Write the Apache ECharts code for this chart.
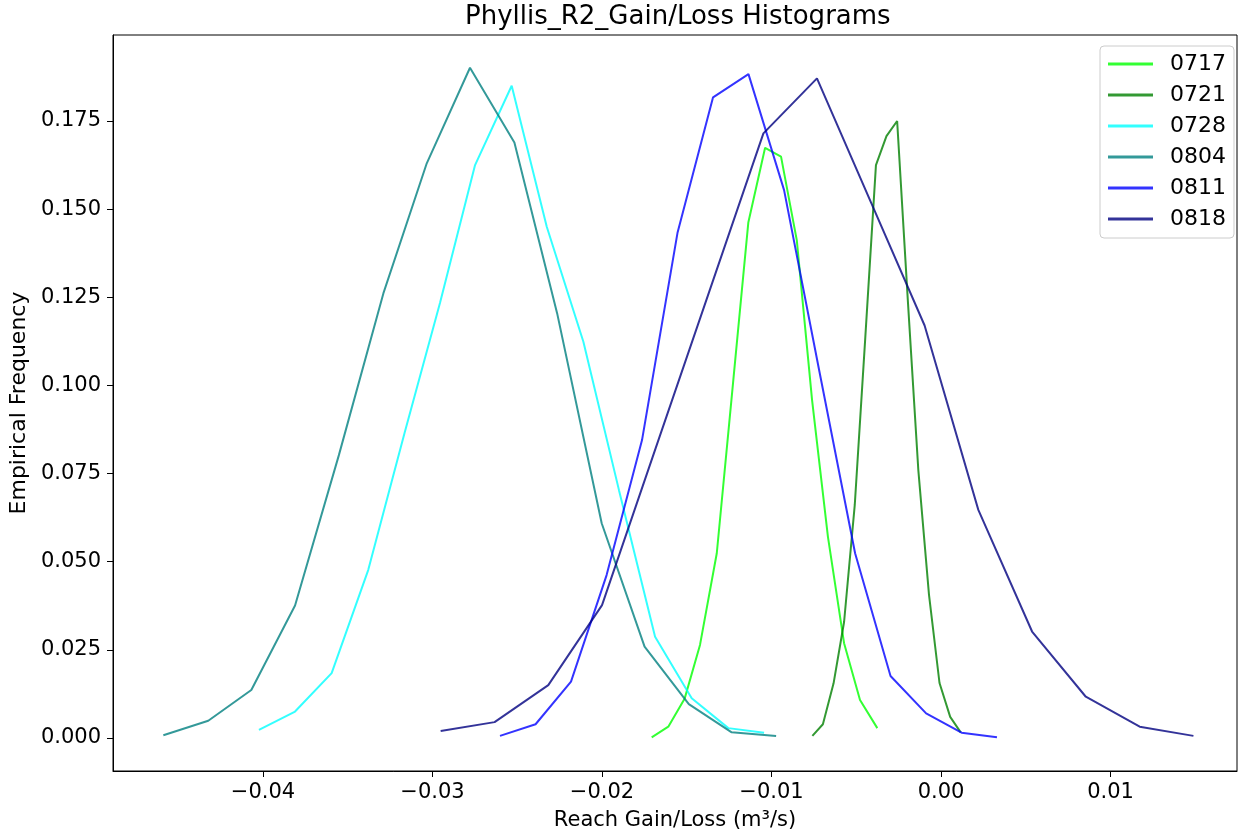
<!DOCTYPE html>
<html>
<head>
<meta charset="utf-8">
<title>Phyllis_R2_Gain/Loss Histograms</title>
<style>
  html, body { margin: 0; padding: 0; background: #fff; }
  #main { width: 1243px; height: 836px; }
</style>
</head>
<body>
<div id="main"></div>
<script src="https://cdn.jsdelivr.net/npm/echarts@6/dist/echarts.min.js"></script>
<script type="text/javascript">
// data
var names = ['0717', '0721', '0728', '0804', '0811', '0818'];

var x0717 = [-0.01707, -0.01609, -0.01513, -0.01422, -0.01323, -0.01227, -0.01137, -0.01038, -0.00944, -0.00851, -0.00761, -0.00667, -0.00572, -0.00478, -0.00376];
var y0717 = [0.0002, 0.0032, 0.0111, 0.0264, 0.0524, 0.1007, 0.1462, 0.1674, 0.1649, 0.1412, 0.0959, 0.0570, 0.0269, 0.0108, 0.0028];

var x0721 = [-0.00759, -0.00697, -0.00634, -0.00572, -0.00509, -0.00447, -0.00384, -0.00322, -0.00259, -0.00196, -0.00134, -0.00071, -0.00009, 0.00054, 0.00116];
var y0721 = [0.0006, 0.0039, 0.0155, 0.0329, 0.0661, 0.1135, 0.1625, 0.1707, 0.1750, 0.1242, 0.0760, 0.0406, 0.0156, 0.0060, 0.0016];

var x0728 = [-0.04024, -0.03811, -0.03595, -0.03379, -0.03165, -0.02956, -0.02749, -0.02533, -0.02326, -0.02110, -0.01900, -0.01687, -0.01471, -0.01255, -0.01044];
var y0728 = [0.0023, 0.0075, 0.0184, 0.0477, 0.0865, 0.1234, 0.1625, 0.1850, 0.1450, 0.1124, 0.0703, 0.0287, 0.0113, 0.0028, 0.0015];

var x0804 = [-0.04588, -0.04323, -0.04069, -0.03811, -0.03552, -0.03290, -0.03034, -0.02779, -0.02517, -0.02265, -0.02002, -0.01749, -0.01488, -0.01235, -0.00973];
var y0804 = [0.0008, 0.0049, 0.0136, 0.0376, 0.0803, 0.1261, 0.1630, 0.1901, 0.1689, 0.1205, 0.0609, 0.0259, 0.0096, 0.0016, 0.0006];

var x0811 = [-0.02602, -0.02392, -0.02183, -0.01973, -0.01764, -0.01555, -0.01345, -0.01136, -0.00926, -0.00717, -0.00507, -0.00298, -0.00088, 0.00121, 0.00330];
var y0811 = [0.0006, 0.0039, 0.0160, 0.0462, 0.0845, 0.1432, 0.1817, 0.1883, 0.1554, 0.1038, 0.0524, 0.0176, 0.0070, 0.0015, 0.0002];

var x0818 = [-0.02952, -0.02634, -0.02317, -0.02000, -0.01683, -0.01366, -0.01048, -0.00732, -0.00414, -0.00097, 0.00220, 0.00537, 0.00854, 0.01172, 0.01489];
var y0818 = [0.0020, 0.0045, 0.0150, 0.0377, 0.0823, 0.1268, 0.1715, 0.1871, 0.1520, 0.1170, 0.0647, 0.0302, 0.0117, 0.0032, 0.0006];

var xTicks = [-0.04, -0.03, -0.02, -0.01, 0.00, 0.01];
var yTicks = [0.000, 0.025, 0.050, 0.075, 0.100, 0.125, 0.150, 0.175];

var colors = ['rgba(0,255,0,0.8)', 'rgba(0,128,0,0.8)', 'rgba(0,255,255,0.8)',
              'rgba(0,128,128,0.8)', 'rgba(0,0,255,0.8)', 'rgba(0,0,128,0.8)'];

var xs = [x0717, x0721, x0728, x0804, x0811, x0818];
var ys = [y0717, y0721, y0728, y0804, y0811, y0818];

function pairs(xa, ya) {
    var out = [];
    for (var i = 0; i < xa.length; i++) out.push([xa[i], ya[i]]);
    return out;
}

var series = names.map(function (n, i) {
    return {
        name: n,
        type: 'line',
        symbol: 'none',
        animation: false,
        data: pairs(xs[i], ys[i]),
        lineStyle: { width: 2, color: colors[i] },
        itemStyle: { color: colors[i] }
    };
});

var font = 'DejaVu Sans';
var myChart = echarts.init(document.getElementById('main'));
var option = {
    backgroundColor: '#fff',
    animation: false,
    title: {
        text: 'Phyllis_R2_Gain/Loss Histograms',
        left: 465,
        top: 4,
        padding: 0,
        textStyle: { fontFamily: font, fontSize: 26, fontWeight: 'normal', color: '#000' }
    },
    legend: {
        data: names,
        orient: 'vertical',
        left: 1100,
        top: 46,
        padding: [7, 8, 8, 8],
        icon: 'rect',
        itemWidth: 45,
        itemHeight: 3,
        itemGap: 9,
        backgroundColor: 'rgba(255,255,255,0.8)',
        borderColor: '#cccccc',
        borderWidth: 1,
        borderRadius: 4,
        textStyle: { fontFamily: font, fontSize: 22, lineHeight: 22, color: '#000', padding: [0, 0, 0, 12] }
    },
    grid: {
        left: 113, top: 35, right: 6, bottom: 65,
        show: true, borderColor: '#000', borderWidth: 1,
        containLabel: false, outerBoundsMode: 'none'
    },
    xAxis: {
        type: 'value',
        min: -0.04885,
        max: 0.01746,
        name: 'Reach Gain/Loss (m³/s)',
        nameLocation: 'middle',
        nameGap: 39,
        nameTextStyle: { fontFamily: font, fontSize: 21, color: '#000' },
        splitLine: { show: false },
        axisLine: { show: true, onZero: false, lineStyle: { color: '#000', width: 1 } },
        axisTick: { show: true, length: 6, customValues: xTicks, lineStyle: { color: '#000' } },
        axisLabel: {
            customValues: xTicks,
            margin: 11,
            fontFamily: font, fontSize: 21, color: '#000',
            formatter: function (v) {
                return (v < -1e-9 ? '\u2212' : '') + Math.abs(v).toFixed(2);
            }
        }
    },
    yAxis: {
        type: 'value',
        min: -0.00936,
        max: 0.19939,
        name: 'Empirical Frequency',
        nameLocation: 'middle',
        nameGap: 77,
        nameTextStyle: { fontFamily: font, fontSize: 22, color: '#000' },
        splitLine: { show: false },
        axisLine: { show: true, onZero: false, lineStyle: { color: '#000', width: 1 } },
        axisTick: { show: true, length: 6, customValues: yTicks, lineStyle: { color: '#000' } },
        axisLabel: {
            customValues: yTicks,
            margin: 12,
            fontFamily: font, fontSize: 21, color: '#000',
            formatter: function (v) { return v.toFixed(3); }
        }
    },
    series: series
};
myChart.setOption(option);
</script>
</body>
</html>
